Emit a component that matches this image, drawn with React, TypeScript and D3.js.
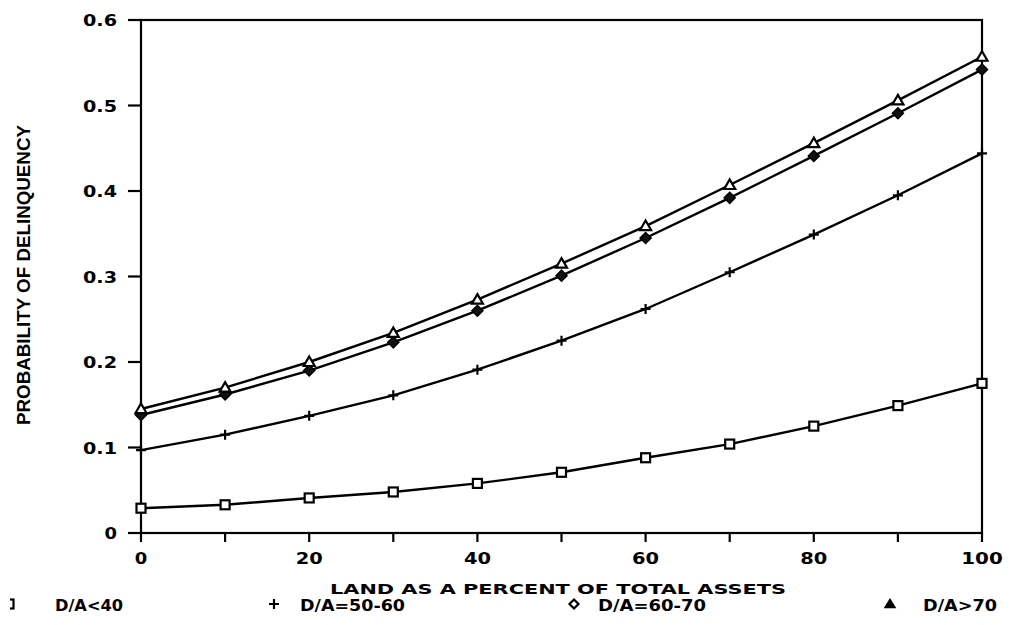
import React from "react";
import * as d3 from "d3";

const xValues = [0, 10, 20, 30, 40, 50, 60, 70, 80, 90, 100];
const seriesLow = [0.029, 0.033, 0.041, 0.048, 0.058, 0.071, 0.088, 0.104, 0.125, 0.149, 0.175];
const seriesMid = [0.097, 0.115, 0.137, 0.161, 0.191, 0.225, 0.262, 0.305, 0.349, 0.395, 0.444];
const seriesHigh = [0.138, 0.162, 0.19, 0.223, 0.26, 0.301, 0.345, 0.392, 0.441, 0.491, 0.542];
const seriesTop = [0.145, 0.17, 0.2, 0.234, 0.273, 0.315, 0.359, 0.407, 0.456, 0.506, 0.557];
const seriesNames = ["D/A<40", "D/A=50-60", "D/A=60-70", "D/A>70"];
const markerTypes = ["square", "plus", "diamond", "triangle"];
const yTicks = [0, 0.1, 0.2, 0.3, 0.4, 0.5, 0.6];
const yTickLabels = ["0", "0.1", "0.2", "0.3", "0.4", "0.5", "0.6"];
const xMinorTicks = [0, 10, 20, 30, 40, 50, 60, 70, 80, 90, 100];
const xLabelTicks = [0, 20, 40, 60, 80, 100];

const FONT = "'DejaVu Sans', sans-serif";
const NARROW = "'Liberation Sans', Arial, sans-serif";

function labelLen(s: string) {
  const digits = s.replace(".", "").length;
  const dot = s.includes(".") ? 7 : 0;
  return digits * 12.5 + (digits - 1) * 2 + dot;
}

function Marker({ type, x, y }: { type: string; x: number; y: number }) {
  if (type === "square")
    return <rect x={x - 4.5} y={y - 4.5} width={9} height={9} fill="white" stroke="#000" strokeWidth={2.2} />;
  if (type === "plus")
    return (
      <path d={`M${x - 5},${y}H${x + 5}M${x},${y - 5}V${y + 5}`} stroke="#000" strokeWidth={2.2} fill="none" />
    );
  if (type === "diamond")
    return <path d={`M${x},${y - 5.5}L${x + 5.5},${y}L${x},${y + 5.5}L${x - 5.5},${y}Z`} fill="#111" stroke="#000" strokeWidth={1.5} />;
  return <path d={`M${x},${y - 5.5}L${x + 5.5},${y + 4}L${x - 5.5},${y + 4}Z`} fill="white" stroke="#000" strokeWidth={2.2} />;
}

function LegendMarker({ type, x, y }: { type: string; x: number; y: number }) {
  if (type === "diamond")
    return <path d={`M${x},${y - 4.5}L${x + 4.5},${y}L${x},${y + 4.5}L${x - 4.5},${y}Z`} fill="white" stroke="#000" strokeWidth={2.2} />;
  if (type === "triangle")
    return <path d={`M${x},${y - 4.5}L${x + 5},${y + 3.5}L${x - 5},${y + 3.5}Z`} fill="#000" stroke="#000" strokeWidth={1.5} />;
  return <Marker type={type} x={x} y={y} />;
}

export default function App() {
  const W = 1034, H = 625;
  const left = 141, right = 982, top = 20, bottom = 533;
  const x = d3.scaleLinear().domain([0, 100]).range([left, right]);
  const y = d3.scaleLinear().domain([0, 0.6]).range([bottom, top]);
  const line = d3.line<number>().x((_, i) => x(xValues[i])).y((d) => y(d));
  const all = [seriesLow, seriesMid, seriesHigh, seriesTop];

  const legendPos = [
    { mx: 9, tx: 55, tl: 68 },
    { mx: 274, tx: 300, tl: 105 },
    { mx: 574, tx: 598, tl: 108 },
    { mx: 890, tx: 923, tl: 74 },
  ];

  return (
    <svg width={W} height={H} style={{ position: "absolute", left: 0, top: 0, background: "#fff" }}>
      <defs>
        <clipPath id="lclip">
          <rect x={10} y={580} width={50} height={40} />
        </clipPath>
      </defs>
      <rect x={0} y={0} width={W} height={H} fill="#fff" />
      <rect x={left} y={top} width={right - left} height={bottom - top} fill="none" stroke="#000" strokeWidth={2.2} />
      {yTicks.map((t, i) => (
        <g key={"y" + t}>
          <line x1={left - 13} x2={left} y1={y(t)} y2={y(t)} stroke="#000" strokeWidth={2.2} />
          <text
            x={117}
            y={y(t) + 6}
            textAnchor="end"
            fontFamily={FONT}
            fontWeight="bold"
            fontSize={15.5}
            textLength={labelLen(yTickLabels[i])}
            lengthAdjust="spacingAndGlyphs"
          >
            {yTickLabels[i]}
          </text>
        </g>
      ))}
      {xMinorTicks.map((t) => (
        <line key={"x" + t} x1={x(t)} x2={x(t)} y1={bottom} y2={bottom + 9} stroke="#000" strokeWidth={2.2} />
      ))}
      {xLabelTicks.map((t) => (
        <text
          key={"xl" + t}
          x={x(t)}
          y={564}
          textAnchor="middle"
          fontFamily={FONT}
          fontWeight="bold"
          fontSize={16}
          textLength={labelLen(String(t))}
          lengthAdjust="spacingAndGlyphs"
        >
          {t}
        </text>
      ))}
      <text
        transform={`translate(30,275) rotate(-90)`}
        textAnchor="middle"
        fontFamily={NARROW}
        fontWeight="bold"
        fontSize={19}
        textLength={300}
        lengthAdjust="spacingAndGlyphs"
      >
        PROBABILITY OF DELINQUENCY
      </text>
      <text x={330} y={594} fontFamily={FONT} fontWeight="bold" fontSize={14.5} textLength={456} lengthAdjust="spacingAndGlyphs">
        LAND AS A PERCENT OF TOTAL ASSETS
      </text>
      {all.map((s, si) => (
        <g key={"s" + si}>
          <path d={line(s) || ""} fill="none" stroke="#000" strokeWidth={2.4} />
          {s.map((v, i) => (
            <Marker key={i} type={markerTypes[si]} x={x(xValues[i])} y={y(v)} />
          ))}
        </g>
      ))}
      {seriesNames.map((n, i) => (
        <g key={"lg" + i}>
          <g clipPath={i === 0 ? "url(#lclip)" : undefined}>
            <LegendMarker type={markerTypes[i]} x={legendPos[i].mx} y={604} />
          </g>
          <text
            x={legendPos[i].tx}
            y={611}
            fontFamily={FONT}
            fontWeight="bold"
            fontSize={15.5}
            textLength={legendPos[i].tl}
            lengthAdjust="spacingAndGlyphs"
          >
            {n}
          </text>
        </g>
      ))}
    </svg>
  );
}
